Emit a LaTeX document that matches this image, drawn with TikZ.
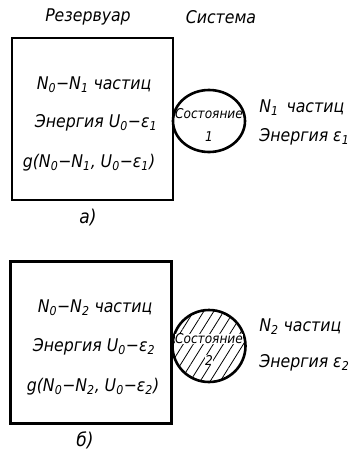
\documentclass[tikz,border=0pt]{standalone}
\usepackage{fontspec}
\setmainfont{DejaVu Sans Condensed}
\usetikzlibrary{shapes.geometric,patterns.meta}
\tikzset{txt/.style={inner sep=0pt, font=\fontsize{17.5}{20}\selectfont\itshape},
  sml/.style={inner sep=0pt, font=\fontsize{13.5}{15}\selectfont\itshape},
  resbox/.style={draw, minimum width=161pt, minimum height=162pt, inner sep=0pt},
  sysell/.style={draw, ellipse, inner sep=0pt}}
\newcommand{\lo}[1]{\textsubscript{#1}}

\begin{document}
\begin{tikzpicture}[x=1pt, y=-1pt, line width=2.6pt]
  \useasboundingbox (0,0) rectangle (353,461);
  % headings
  \node[txt] (resv) at (88,17)  {Резервуар};
  \node[txt] (syst) at (221,17) {Система};
  % case a
  \node[resbox] (resa) at (92.5,119) {};
  \node[sysell, minimum width=72pt, minimum height=62pt] (sta) at (209,121) {};
  \node[txt] (a1) at (94,85)  {N\lo{0}−N\lo{1} частиц};
  \node[txt] (a2) at (96,123) {Энергия U\lo{0}−ε\lo{1}};
  \node[txt] (a3) at (89,163) {g(N\lo{0}−N\lo{1}, U\lo{0}−ε\lo{1})};
  \node[sml] (sa1) at (209,114) {Состояние};
  \node[sml] (sa2) at (209,137) {1};
  \node[txt, anchor=west] (ra1) at (258,108) {N\lo{1}\, частиц};
  \node[txt, anchor=west] (ra2) at (258,137) {Энергия ε\lo{1}};
  \node[txt, font=\fontsize{19}{22}\selectfont\itshape] (capa) at (88,218) {а)};
  % case b
  \node[resbox] (resb) at (91,342.5) {};
  \node[sysell, minimum width=73pt, minimum height=72pt,
    pattern={Lines[angle=58, distance=8.5pt, line width=0.8pt]}] (stb) at (209,346) {};
  \node[txt] (b1) at (95,308) {N\lo{0}−N\lo{2} частиц};
  \node[txt] (b2) at (94,347) {Энергия U\lo{0}−ε\lo{2}};
  \node[txt] (b3) at (93,387) {g(N\lo{0}−N\lo{2}, U\lo{0}−ε\lo{2})};
  \node[sml, fill=white] (sb1) at (209,339) {Состояние};
  \node[sml, fill=white] (sb2) at (209,360) {2};
  \node[txt, anchor=west] (rb1) at (258,327) {N\lo{2} частиц};
  \node[txt, anchor=west] (rb2) at (258,363) {Энергия ε\lo{2}};
  \node[txt, font=\fontsize{19}{22}\selectfont\itshape] (capb) at (85,440) {б)};
\end{tikzpicture}
\end{document}
